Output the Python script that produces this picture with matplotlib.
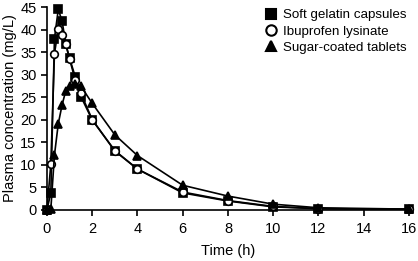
"""Plasma concentration-time profiles for three ibuprofen formulations."""
import matplotlib
matplotlib.use("Agg")
import matplotlib.pyplot as plt
from matplotlib.lines import Line2D

plt.rcParams["font.family"] = ["Liberation Sans", "DejaVu Sans"]

# time points (h)
time_h = [0, 0.17, 0.33, 0.5, 0.67, 0.83, 1, 1.25, 1.5, 2, 3, 4, 6, 8, 10, 12, 16]

soft_gelatin = [0, 3.7, 38.0, 44.5, 41.8, 36.8, 33.6, 29.5, 25.1, 19.9,
                13.1, 9.0, 3.7, 1.9, 0.6, 0.2, 0.1]
ibuprofen_lysinate = [0, 10.1, 34.6, 40.2, 38.9, 36.7, 33.4, 28.8, 25.8, 20.0,
                      13.0, 9.0, 3.9, 2.0, 0.7, 0.2, 0.1]
sugar_coated = [0, 0.1, 12.1, 19.1, 23.3, 26.4, 27.4, 28.0, 27.4, 23.6,
                16.6, 12.0, 5.4, 3.0, 1.2, 0.4, 0.1]

x_ticks = [0, 2, 4, 6, 8, 10, 12, 14, 16]
y_ticks = [0, 5, 10, 15, 20, 25, 30, 35, 40, 45]

SERIES = [
    ("Soft gelatin capsules", soft_gelatin, "s", "black"),
    ("Ibuprofen lysinate", ibuprofen_lysinate, "o", "white"),
    ("Sugar-coated tablets", sugar_coated, "^", "black"),
]

fig = plt.figure(figsize=(4.18, 2.61), dpi=100)
ax = fig.add_axes([0.1124, 0.197, 0.866, 0.776])

# squares underneath, open circles over them, triangles on top
for z, (label, vals, mk, face) in enumerate(SERIES):
    ax.plot(time_h, vals, color="black", lw=1.2, marker=mk, ms=5.5 if mk != "^" else 6,
            mfc=face, mec="black", mew=1.2, clip_on=False, zorder=3 + z)

ax.set_xlim(0, 16)
ax.set_ylim(0, 45)
ax.set_xticks(x_ticks)
ax.set_yticks(y_ticks)
ax.spines["top"].set_visible(False)
ax.spines["right"].set_visible(False)
for s in ("left", "bottom"):
    ax.spines[s].set_linewidth(1.2)
ax.tick_params(direction="out", length=4, width=1.2, labelsize=10.5, colors="black")
ax.tick_params(axis="x", pad=5)
ax.set_xlabel("Time (h)", fontsize=10.5, labelpad=6)
ax.set_ylabel("Plasma concentration (mg/L)", fontsize=10.5, labelpad=2)

handles = [Line2D([], [], ls="none", marker=mk, ms=7.5, mfc=face, mec="black", mew=1.5,
                  label=label) for label, _, mk, face in SERIES]
ax.legend(handles=handles, loc="upper right", bbox_to_anchor=(1.015, 1.03), frameon=False,
          fontsize=9.6, handlelength=0.8, handletextpad=0.5, labelspacing=0.3,
          borderaxespad=0.2)

fig.savefig("out.png", dpi=100)
